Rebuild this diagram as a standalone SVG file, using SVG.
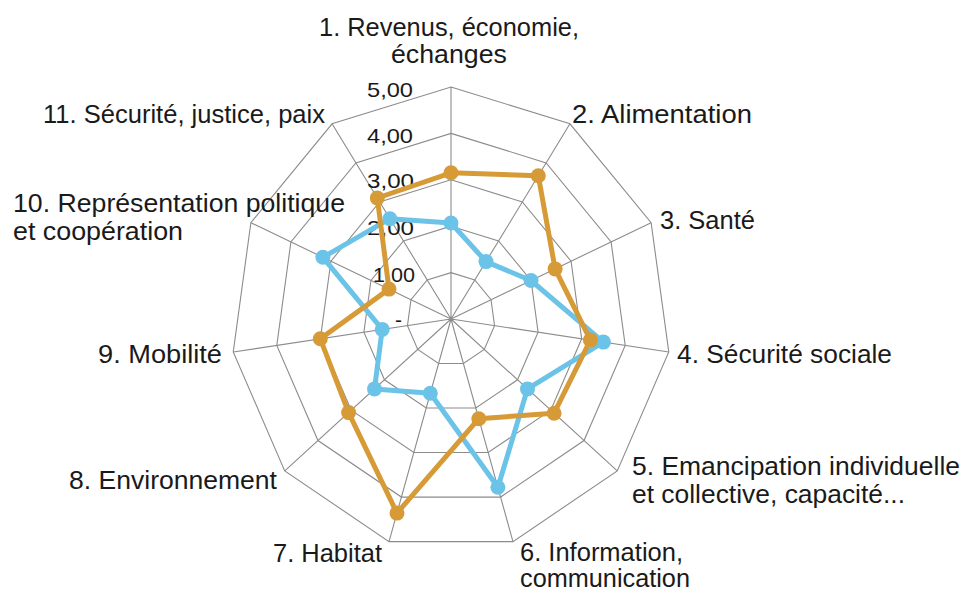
<svg xmlns="http://www.w3.org/2000/svg" width="965" height="593" viewBox="0 0 965 593">
<style>
.grid{fill:none;stroke:#8c8c8c;stroke-width:1.1}
.lbl{font-family:"Liberation Sans",Arial,sans-serif;font-size:25px;fill:#1a1a1a}
.tick{font-family:"Liberation Sans",Arial,sans-serif;font-size:21px;fill:#1a1a1a}
.sA{fill:none;stroke:#D69A37;stroke-width:5;stroke-linejoin:round}
.sB{fill:none;stroke:#6CC3E8;stroke-width:5;stroke-linejoin:round}
.mA{fill:#D69A37}
.mB{fill:#6CC3E8}
</style>
<rect width="965" height="593" fill="#ffffff"/>
<g id="grid">
<polygon class="grid" points="451,87 569.94,123.83 651.12,222.63 668.76,352.02 617.27,470.93 512.98,541.6 389.02,541.6 284.74,470.93 233.24,352.02 250.88,222.63 332.06,123.83"/>
<polygon class="grid" points="451,133.4 546.15,162.86 611.1,241.9 625.21,345.41 584.01,440.54 500.58,497.08 401.42,497.08 317.99,440.54 276.79,345.41 290.9,241.9 355.85,162.86"/>
<polygon class="grid" points="451,179.8 522.36,201.9 571.07,261.18 581.66,338.81 550.76,410.16 488.19,452.56 413.81,452.56 351.24,410.16 320.34,338.81 330.93,261.18 379.64,201.9"/>
<polygon class="grid" points="451,226.2 498.58,240.93 531.05,280.45 538.1,332.21 517.51,379.77 475.79,408.04 426.21,408.04 384.49,379.77 363.9,332.21 370.95,280.45 403.42,240.93"/>
<polygon class="grid" points="451,272.6 474.79,279.97 491.02,299.73 494.55,325.6 484.25,349.39 463.4,363.52 438.6,363.52 417.75,349.39 407.45,325.6 410.98,299.73 427.21,279.97"/>
<path class="grid" d="M451,319L451,87M451,319L569.94,123.83M451,319L651.12,222.63M451,319L668.76,352.02M451,319L617.27,470.93M451,319L512.98,541.6M451,319L389.02,541.6M451,319L284.74,470.93M451,319L233.24,352.02M451,319L250.88,222.63M451,319L332.06,123.83"/>
</g>
<g id="ticks">
<text class="tick" x="367" y="97" textLength="46" lengthAdjust="spacingAndGlyphs">5,00</text>
<text class="tick" x="367" y="143" textLength="46" lengthAdjust="spacingAndGlyphs">4,00</text>
<text class="tick" x="367" y="188" textLength="47" lengthAdjust="spacingAndGlyphs">3,00</text>
<text class="tick" x="367" y="235" textLength="47" lengthAdjust="spacingAndGlyphs">2,00</text>
<text class="tick" x="373" y="282" textLength="42" lengthAdjust="spacingAndGlyphs">1,00</text>
<text class="tick" x="395" y="327">-</text>
</g>
<g id="connectors">
<polygon id="seriesB" class="sB" points="451,223 486,261.6 531,280.5 603.4,342.1 527.5,388.9 497.9,487.3 430.3,393.3 374.5,388.9 382.2,329.4 322.9,257.3 389.9,218.7"/>
<polygon id="seriesA" class="sA" points="451,172.8 538.3,175.7 555.1,268.9 590.4,340.1 554.1,413.2 478.8,418.7 397,513.1 348.6,412.6 320.3,338.8 389,289.1 377.3,198"/>
</g>
<g id="markersB">
<circle class="mB" cx="451" cy="223" r="7.5"/>
<circle class="mB" cx="486" cy="261.6" r="7.5"/>
<circle class="mB" cx="531" cy="280.5" r="7.5"/>
<circle class="mB" cx="603.4" cy="342.1" r="7.5"/>
<circle class="mB" cx="527.5" cy="388.9" r="7.5"/>
<circle class="mB" cx="497.9" cy="487.3" r="7.5"/>
<circle class="mB" cx="430.3" cy="393.3" r="7.5"/>
<circle class="mB" cx="374.5" cy="388.9" r="7.5"/>
<circle class="mB" cx="382.2" cy="329.4" r="7.5"/>
<circle class="mB" cx="322.9" cy="257.3" r="7.5"/>
<circle class="mB" cx="389.9" cy="218.7" r="7.5"/>
</g>
<g id="markersA">
<circle class="mA" cx="451" cy="172.8" r="7.5"/>
<circle class="mA" cx="538.3" cy="175.7" r="7.5"/>
<circle class="mA" cx="555.1" cy="268.9" r="7.5"/>
<circle class="mA" cx="590.4" cy="340.1" r="7.5"/>
<circle class="mA" cx="554.1" cy="413.2" r="7.5"/>
<circle class="mA" cx="478.8" cy="418.7" r="7.5"/>
<circle class="mA" cx="397" cy="513.1" r="7.5"/>
<circle class="mA" cx="348.6" cy="412.6" r="7.5"/>
<circle class="mA" cx="320.3" cy="338.8" r="7.5"/>
<circle class="mA" cx="389" cy="289.1" r="7.5"/>
<circle class="mA" cx="377.3" cy="198" r="7.5"/>
</g>
<g id="axis1"><text class="lbl" x="319" y="36" textLength="260" lengthAdjust="spacingAndGlyphs">1. Revenus, économie,</text><text class="lbl" x="391" y="63" textLength="116" lengthAdjust="spacingAndGlyphs">échanges</text></g>
<g id="axis2"><text class="lbl" x="572" y="123" textLength="180" lengthAdjust="spacingAndGlyphs">2. Alimentation</text></g>
<g id="axis3"><text class="lbl" x="660" y="229" textLength="95" lengthAdjust="spacingAndGlyphs">3. Santé</text></g>
<g id="axis4"><text class="lbl" x="677" y="363" textLength="215" lengthAdjust="spacingAndGlyphs">4. Sécurité sociale</text></g>
<g id="axis5"><text class="lbl" x="632" y="475" textLength="328" lengthAdjust="spacingAndGlyphs">5. Emancipation individuelle</text><text class="lbl" x="632" y="503" textLength="273" lengthAdjust="spacingAndGlyphs">et collective, capacité...</text></g>
<g id="axis6"><text class="lbl" x="520" y="561" textLength="163" lengthAdjust="spacingAndGlyphs">6. Information,</text><text class="lbl" x="520" y="587" textLength="170" lengthAdjust="spacingAndGlyphs">communication</text></g>
<g id="axis7"><text class="lbl" x="273" y="562" textLength="109" lengthAdjust="spacingAndGlyphs">7. Habitat</text></g>
<g id="axis8"><text class="lbl" x="69" y="489" textLength="208" lengthAdjust="spacingAndGlyphs">8. Environnement</text></g>
<g id="axis9"><text class="lbl" x="98" y="363" textLength="124" lengthAdjust="spacingAndGlyphs">9. Mobilité</text></g>
<g id="axis10"><text class="lbl" x="13" y="212" textLength="332" lengthAdjust="spacingAndGlyphs">10. Représentation politique</text><text class="lbl" x="13" y="240" textLength="170" lengthAdjust="spacingAndGlyphs">et coopération</text></g>
<g id="axis11"><text class="lbl" x="43" y="123" textLength="282" lengthAdjust="spacingAndGlyphs">11. Sécurité, justice, paix</text></g>
</svg>
